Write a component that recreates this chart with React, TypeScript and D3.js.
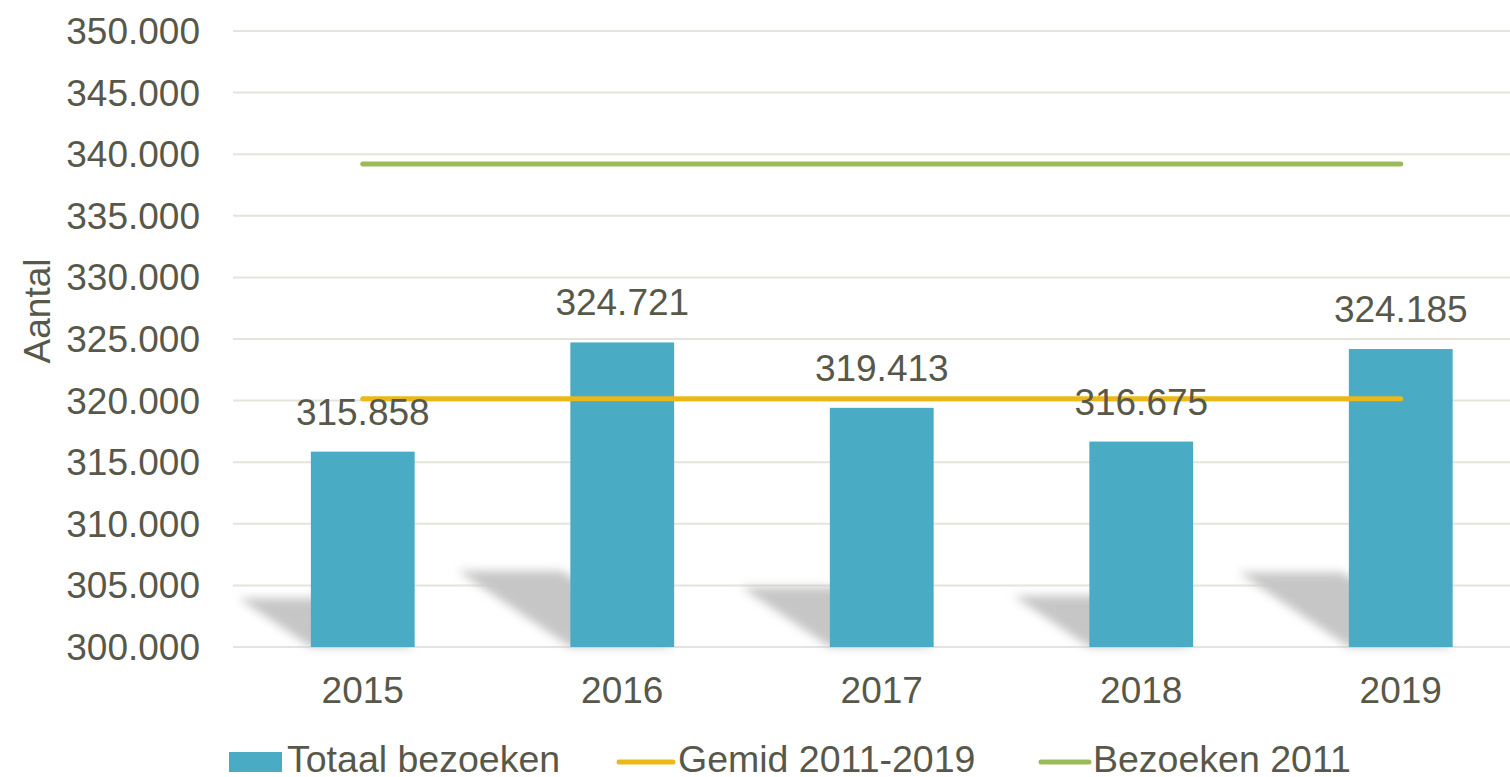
import React from 'react';
import * as d3 from 'd3';

// jaren en bezoekersaantallen
const years = ['2015', '2016', '2017', '2018', '2019'];
const totaalBezoeken = [315858, 324721, 319413, 316675, 324185];
const gemid20112019 = [320150, 320150, 320150, 320150, 320150];
const bezoeken2011 = [339200, 339200, 339200, 339200, 339200];
const yTicks = [300000, 305000, 310000, 315000, 320000, 325000, 330000, 335000, 340000, 345000, 350000];
const legendLabels = ['Totaal bezoeken', 'Gemid 2011-2019', 'Bezoeken 2011'];

const W = 1510;
const H = 777;
const plot = { left: 233, right: 1530.5, top: 31, bottom: 647 };

const textColor = '#58584a';
const gridColor = '#e4e4dc';
const barColor = '#4aabc5';
const gemidColor = '#ebb817';
const greenColor = '#9bbb59';
const font = '"Liberation Sans", Arial, sans-serif';

// punt als duizendtal-scheiding
const fmt = (v: number) => d3.format(',')(v).replace(/,/g, '.');

export default function App() {
  const x = d3.scaleBand<string>().domain(years).range([plot.left, plot.right]).padding(0);
  const y = d3.scaleLinear().domain([300000, 350000]).range([plot.bottom, plot.top]);
  const barW = x.bandwidth() * 0.4;
  const cx = (yr: string) => (x(yr) as number) + x.bandwidth() / 2;

  const line = d3.line<number>()
    .x((_, i) => cx(years[i]))
    .y(d => y(d));

  return (
    <svg width={W} height={H} style={{ position: 'absolute', left: 0, top: 0, background: '#fff' }} fontFamily={font}>
      <defs>
        <filter id="blur" x="-30%" y="-30%" width="160%" height="160%">
          <feGaussianBlur stdDeviation="5" />
        </filter>
      </defs>

      {/* rasterlijnen */}
      {yTicks.map(t => (
        <line key={t} x1={plot.left} x2={W} y1={y(t)} y2={y(t)} stroke={gridColor} strokeWidth={2} />
      ))}

      {/* y-as labels */}
      {yTicks.map(t => (
        <text key={'l' + t} x={200} y={y(t) + 13} textAnchor="end" fontSize={37} fill={textColor}>
          {fmt(t)}
        </text>
      ))}

      <text transform={`translate(50, 311) rotate(-90)`} textAnchor="middle" fontSize={37} fill={textColor}>
        Aantal
      </text>

      {/* schaduwen achter de staven */}
      {totaalBezoeken.map((v, i) => {
        const h = plot.bottom - y(v);
        const x0 = cx(years[i]) - barW / 2;
        const x1 = x0 + barW;
        const s = h * 0.37;
        const sh = h * 0.25;
        const pts = [
          [x0, plot.bottom], [x1, plot.bottom],
          [x1 - s, plot.bottom - sh], [x0 - s, plot.bottom - sh],
        ].map(p => p.join(',')).join(' ');
        return <polygon key={'s' + i} points={pts} fill="#c6c6c6" filter="url(#blur)" />;
      })}

      {/* staven */}
      {totaalBezoeken.map((v, i) => (
        <rect key={'b' + i} x={cx(years[i]) - barW / 2} y={y(v)} width={barW} height={plot.bottom - y(v)} fill={barColor} />
      ))}

      {/* lijnen */}
      <path d={line(bezoeken2011) || ''} fill="none" stroke={greenColor} strokeWidth={5} strokeLinecap="round" />
      <path d={line(gemid20112019) || ''} fill="none" stroke={gemidColor} strokeWidth={5} strokeLinecap="round" />

      {/* datalabels */}
      {totaalBezoeken.map((v, i) => (
        <text key={'d' + i} x={cx(years[i])} y={y(v) - 27} textAnchor="middle" fontSize={37} fill={textColor}>
          {fmt(v)}
        </text>
      ))}

      {/* x-as labels */}
      {years.map(yr => (
        <text key={'x' + yr} x={cx(yr)} y={703} textAnchor="middle" fontSize={37} fill={textColor}>
          {yr}
        </text>
      ))}

      {/* legenda */}
      <rect x={229} y={752} width={53} height={20} fill={barColor} />
      <text x={287} y={772} fontSize={37.5} fill={textColor}>{legendLabels[0]}</text>
      <line x1={619} x2={673} y1={762} y2={762} stroke={gemidColor} strokeWidth={5} strokeLinecap="round" />
      <text x={678} y={772} fontSize={37.5} fill={textColor}>{legendLabels[1]}</text>
      <line x1={1041} x2={1089} y1={762} y2={762} stroke={greenColor} strokeWidth={5} strokeLinecap="round" />
      <text x={1093} y={772} fontSize={37.5} fill={textColor}>{legendLabels[2]}</text>
    </svg>
  );
}
